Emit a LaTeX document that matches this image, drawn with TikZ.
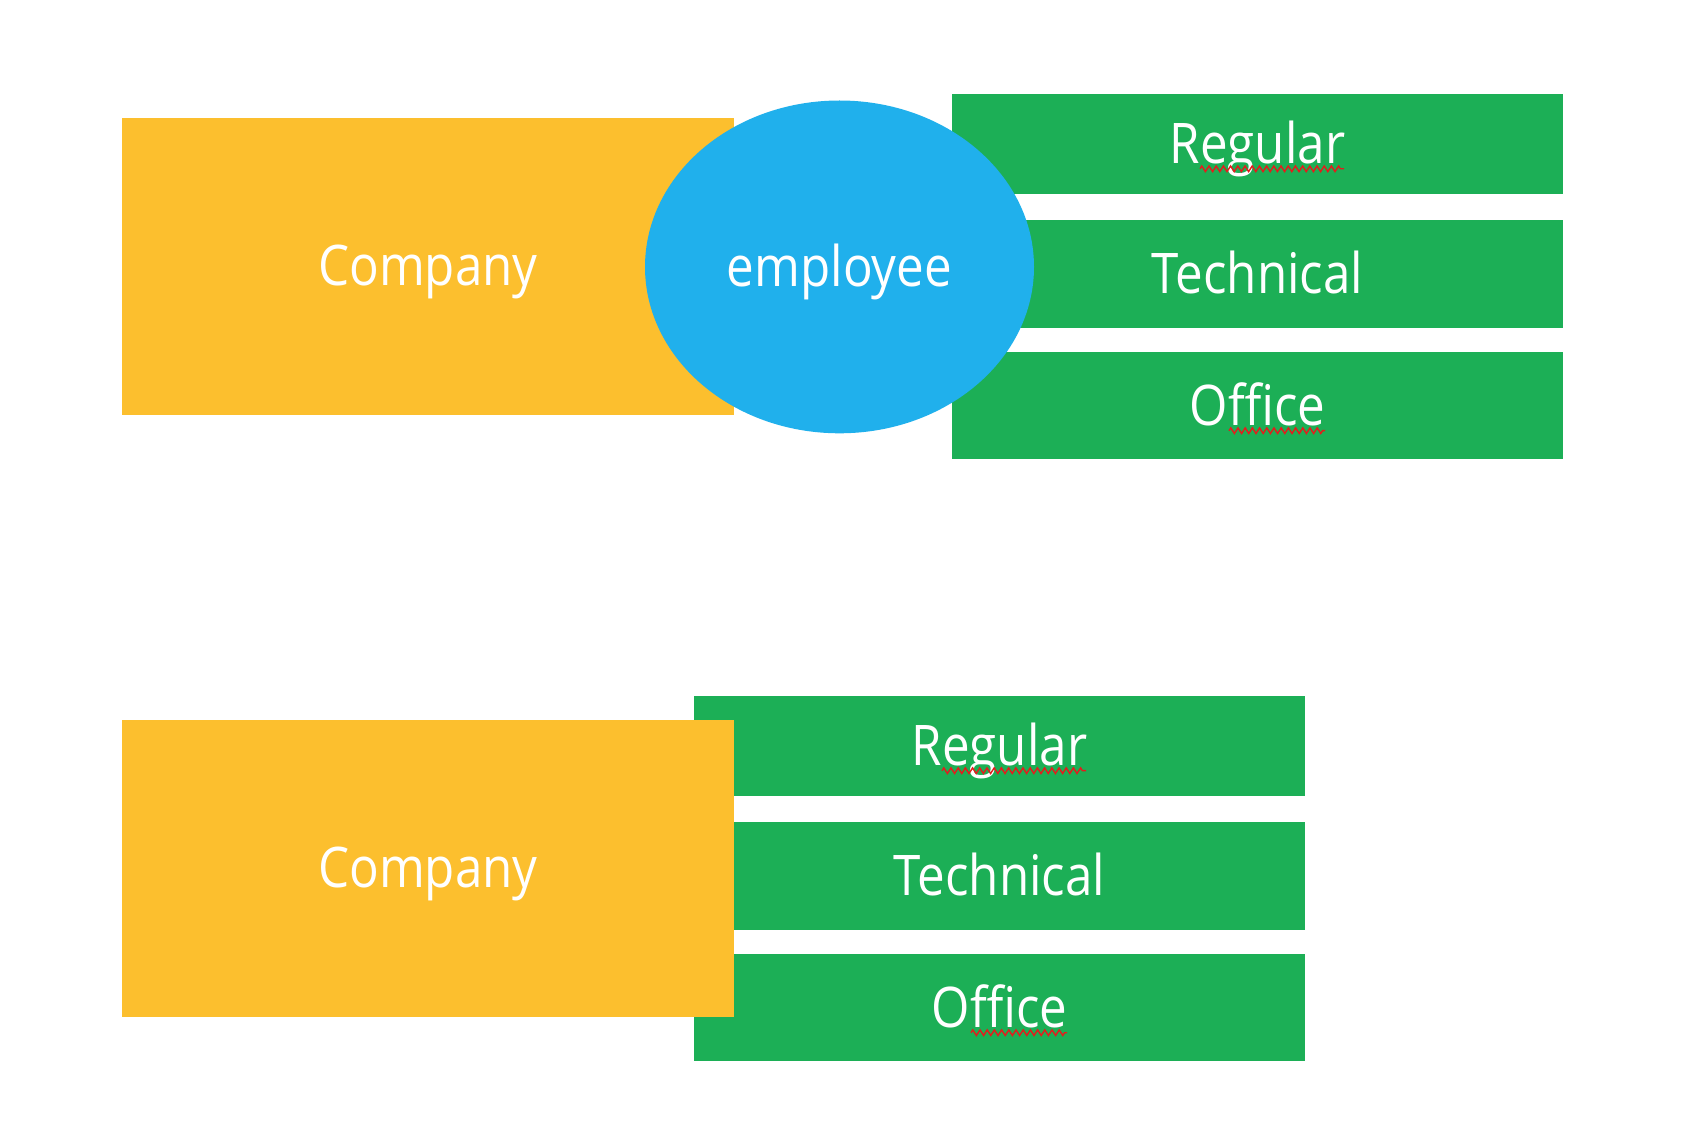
\documentclass[tikz,border=0pt]{standalone}
\usepackage{fontspec}
\setmainfont{Open Sans}[FakeStretch=0.88]
\usetikzlibrary{decorations.pathmorphing,calc,shapes.geometric}
\definecolor{compyellow}{RGB}{252,191,46}
\definecolor{empblue}{RGB}{32,176,236}
\definecolor{catgreen}{RGB}{28,175,86}
\definecolor{squiggle}{RGB}{228,28,28}
\begin{document}
\begin{tikzpicture}[x=0.5pt,y=-0.5pt,
  shape base/.style={inner sep=0pt, text=white, text height=19.4pt, text depth=0pt,
    font=\fontsize{28}{34}\selectfont},
  company/.style={shape base, rectangle, fill=compyellow, minimum width=305.8pt, minimum height=148.6pt},
  employee/.style={shape base, ellipse, fill=empblue, minimum width=194.5pt, minimum height=166.4pt},
  thinbar/.style={shape base, rectangle, fill=catgreen, minimum width=305.7pt, minimum height=49.8pt},
  bar/.style={shape base, rectangle, fill=catgreen, minimum width=305.7pt, minimum height=53.7pt},
  squig/.style={draw=squiggle, line width=0.7pt, decorate,
    decoration={zigzag, segment length=3.6pt, amplitude=1.4pt}}
]
\fill[white] (0,0) rectangle (1694,1144);
\useasboundingbox (0,0) rectangle (1694,1144);

% upper group: company, categories, employee ellipse on top
\node[company] (company1) at (427.9,266.4) {Company};
\node[thinbar] (reg1)  at (1257.5,143.8) {Regular};
\node[bar]     (tech1) at (1257.5,273.9) {Technical};
\node[bar]     (off1)  at (1257.5,405.7) {Office};
\draw[squig] ($(reg1.center)+(-57.5,25)$) -- ($(reg1.center)+(86.5,25)$);
\draw[squig] ($(off1.center)+(-28.5,25)$) -- ($(off1.center)+(67.5,25)$);
\node[employee] (employee) at (839.5,266.9) {employee};

% lower group: categories behind the company box
\node[thinbar] (reg2)  at (999.5,745.7) {Regular};
\node[bar]     (tech2) at (999.5,875.8) {Technical};
\node[bar]     (off2)  at (999.5,1007.7) {Office};
\draw[squig] ($(reg2.center)+(-57.5,25)$) -- ($(reg2.center)+(86.5,25)$);
\draw[squig] ($(off2.center)+(-28.5,25)$) -- ($(off2.center)+(67.5,25)$);
\node[company] (company2) at (427.9,868.5) {Company};
\end{tikzpicture}
\end{document}
